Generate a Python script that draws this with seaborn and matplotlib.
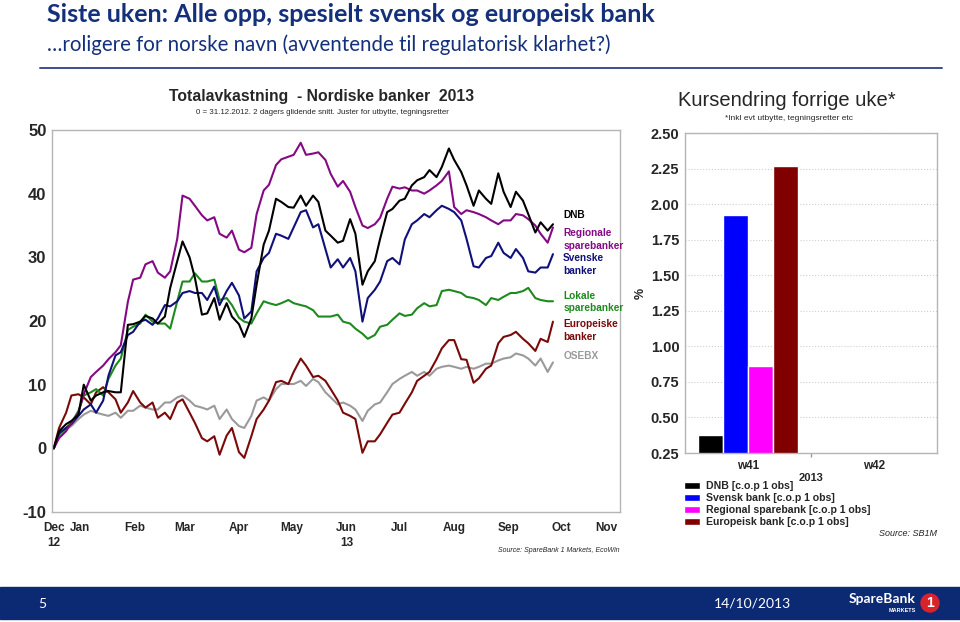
import pandas as pd
import matplotlib
matplotlib.use("Agg")
import matplotlib.pyplot as plt
import matplotlib.dates as mdates
import seaborn as sns
from matplotlib.lines import Line2D
from matplotlib.patches import Rectangle, Ellipse

# Totalavkastning, avlest tirsdag og fredag, 0 = 31.12.2012
dates = pd.date_range("2013-01-01", "2013-10-11", freq="W-TUE").union(
    pd.date_range("2013-01-01", "2013-10-11", freq="W-FRI"))

dnb = [0, 2.7, 3.8, 4.3, 5.3, 10.0, 7.5, 8.3, 8.8, 9.0,
       8.8, 8.8, 19.4, 19.5, 19.9, 20.8, 20.4, 19.6, 20.7, 25.2,
       29.4, 32.5, 30.0, 26.8, 21.0, 21.2, 23.6, 20.2, 22.8, 20.7,
       19.5, 17.5, 20.4, 25.7, 32.0, 34.2, 39.2, 38.7, 37.9, 37.8,
       39.7, 38.1, 39.7, 38.7, 34.2, 33.4, 32.3, 32.6, 36.0, 33.7,
       25.7, 27.8, 29.4, 32.9, 37.1, 37.6, 38.9, 39.2, 41.3, 42.1,
       42.6, 43.7, 42.6, 44.2, 47.1, 45.3, 43.4, 41.3, 38.1, 40.5,
       39.2, 38.4, 43.2, 40.3, 37.9, 40.3, 38.9, 36.8, 33.9, 35.5,
       34.2, 35.2]
regionale = [0, 1.6, 2.7, 4.0, 5.6, 8.5, 11.2, 12.0, 13.0, 14.0,
             15.1, 16.2, 23.0, 26.5, 26.8, 28.9, 29.4, 27.6, 26.8, 27.8,
             32.9, 39.7, 39.2, 38.1, 36.6, 35.8, 36.3, 33.7, 33.1, 34.2,
             31.2, 30.8, 31.5, 36.8, 40.5, 41.4, 44.5, 45.4, 45.8, 46.1,
             48.0, 46.1, 46.3, 46.5, 45.3, 43.1, 41.1, 42.0, 40.3, 37.9,
             35.0, 34.6, 35.2, 36.2, 39.2, 41.1, 40.8, 41.0, 40.5, 40.5,
             40.0, 40.5, 41.3, 42.0, 43.5, 37.9, 36.8, 37.4, 37.1, 36.8,
             36.3, 35.8, 35.2, 35.8, 35.8, 36.8, 36.6, 36.0, 35.0, 33.7,
             32.3, 34.7]
svenske = [0, 2.4, 3.2, 3.8, 5.1, 6.1, 6.9, 5.6, 7.5, 11.4,
           14.6, 15.1, 17.8, 18.3, 19.9, 20.2, 19.4, 20.4, 22.5, 22.3,
           23.1, 24.4, 24.7, 24.4, 24.4, 23.3, 25.4, 22.5, 24.7, 26.0,
           24.0, 20.4, 21.5, 27.8, 29.9, 30.7, 33.7, 33.4, 32.9, 34.7,
           37.1, 37.4, 34.7, 35.2, 31.3, 28.4, 29.7, 28.4, 29.9, 27.8,
           19.9, 23.6, 24.9, 26.2, 29.4, 29.9, 28.9, 32.8, 35.2, 35.8,
           36.8, 36.3, 37.4, 38.1, 37.6, 37.1, 35.8, 32.9, 28.6, 28.4,
           29.9, 30.2, 32.3, 30.7, 29.9, 31.3, 29.9, 27.8, 27.6, 28.4,
           28.4, 30.5]
lokale = [0, 2.2, 3.2, 4.0, 5.9, 8.3, 8.8, 9.3, 8.3, 10.9,
          13.0, 14.1, 18.6, 19.1, 19.6, 21.0, 19.9, 19.6, 19.6, 18.8,
          23.1, 26.2, 26.2, 27.5, 26.2, 26.2, 26.5, 23.3, 23.6, 22.5,
          20.5, 19.9, 19.6, 21.2, 23.1, 22.8, 22.5, 22.8, 23.3, 22.8,
          22.5, 22.3, 21.7, 20.7, 20.7, 20.7, 21.0, 19.9, 19.6, 18.8,
          18.0, 17.2, 17.8, 19.1, 19.4, 20.2, 21.2, 20.8, 21.0, 22.0,
          22.8, 22.3, 22.5, 24.7, 24.9, 24.7, 24.4, 23.8, 23.6, 23.3,
          22.5, 23.6, 23.3, 23.8, 24.4, 24.4, 24.7, 25.2, 23.6, 23.3,
          23.1, 23.1]
europeiske = [0, 3.2, 5.6, 8.3, 8.5, 8.0, 6.9, 8.8, 9.6, 8.8,
              7.7, 5.6, 7.2, 9.0, 7.2, 6.4, 7.2, 4.8, 5.6, 4.6,
              7.2, 7.7, 5.6, 4.0, 1.6, 1.1, 1.9, -1.0, 2.0, 3.2,
              -0.6, -1.5, 1.9, 4.6, 6.1, 7.5, 10.4, 10.6, 10.1, 12.0,
              14.1, 13.0, 11.2, 11.4, 10.6, 9.3, 7.5, 5.6, 5.1, 4.6,
              -0.7, 1.1, 1.1, 2.2, 4.0, 5.3, 5.6, 7.0, 8.8, 10.6,
              11.4, 12.0, 14.0, 15.7, 17.0, 17.0, 14.0, 13.9, 10.3, 11.0,
              12.5, 13.0, 16.5, 17.5, 17.8, 18.3, 17.2, 16.5, 15.3, 17.2,
              16.7, 19.9]
osebx = [0, 1.9, 3.0, 3.5, 4.6, 5.3, 5.9, 5.6, 5.3, 5.1,
         5.6, 4.8, 5.9, 5.9, 6.7, 6.4, 6.1, 6.1, 7.2, 7.2,
         8.0, 8.3, 7.5, 6.7, 6.4, 6.1, 6.7, 4.6, 6.1, 4.6,
         3.5, 3.2, 5.1, 7.5, 8.0, 7.5, 9.3, 10.1, 10.1, 10.1,
         10.6, 9.8, 10.9, 10.4, 8.8, 8.0, 6.9, 7.2, 6.7, 6.1,
         4.3, 5.9, 6.9, 7.2, 8.8, 10.1, 10.9, 11.4, 12.0, 11.4,
         12.0, 11.4, 12.5, 12.8, 13.0, 12.8, 12.5, 12.8, 12.5, 12.8,
         13.3, 13.3, 13.8, 14.1, 14.3, 14.9, 14.6, 14.1, 13.0, 14.1,
         12.0, 13.5]

series_names = ["OSEBX", "Europeiske banker", "Lokale sparebanker", "Svenske banker",
                "Regionale sparebanker", "DNB"]
series_colors = ["#9a9a9a", "#7a0a0a", "#1e8a1e", "#10107a", "#840a84", "#000000"]

month_labels = ["Dec\n12", "Jan", "Feb", "Mar", "Apr", "May", "Jun\n13", "Jul", "Aug", "Sep", "Oct", "Nov"]

# Kursendring forrige uke
weeks = ["w41", "w42"]
bar_labels = ["DNB [c.o.p 1 obs]", "Svensk bank [c.o.p 1 obs]",
              "Regional sparebank [c.o.p 1 obs]", "Europeisk bank [c.o.p 1 obs]"]
bar_values = [0.38, 1.92, 0.86, 2.27]
bar_colors = ["#000000", "#0000ff", "#ff00ff", "#800000"]

sns.set_theme(style="white")
plt.rcParams['font.family'] = ['Liberation Sans', 'DejaVu Sans']
slide_font = ['Lato', 'DejaVu Sans']
navy = "#14307a"

W, H = 960, 622
fig = plt.figure(figsize=(9.6, 6.22), dpi=100)


def fx(px):
    return px / W


def fy(py):
    return 1 - py / H


# ---- venstre: linjediagram
wide = pd.DataFrame({"Dato": dates, "DNB": dnb, "Regionale sparebanker": regionale,
                     "Svenske banker": svenske, "Lokale sparebanker": lokale,
                     "Europeiske banker": europeiske, "OSEBX": osebx})
long = wide.melt(id_vars="Dato", var_name="Serie", value_name="Avkastning")

ax = fig.add_axes([fx(52), fy(512), fx(568), 382 / H])
sns.lineplot(data=long, x="Dato", y="Avkastning", hue="Serie", hue_order=series_names,
             palette=series_colors, linewidth=1.5, legend=False, ax=ax)
ax.set_xlim(mdates.date2num(pd.Timestamp("2012-12-31")), mdates.date2num(pd.Timestamp("2013-11-18")))
ax.set_ylim(-10, 50)
ax.set_xlabel("")
ax.set_ylabel("")
ax.set_yticks(range(-10, 51, 10))
ax.set_yticklabels([str(v) for v in range(-10, 51, 10)], fontsize=12, fontweight='bold')
ax.tick_params(axis='y', length=0, pad=4)

month_starts = pd.date_range("2013-01-01", "2013-11-01", freq="MS")
ax.set_xticks(mdates.date2num(month_starts))
ax.set_xticklabels([])
ax.tick_params(axis='x', which='major', direction='in', length=4, color='#999999')
label_pos = [pd.Timestamp("2013-01-01")] + [d + pd.Timedelta(days=15) for d in month_starts[:-1]] + [pd.Timestamp("2013-11-10")]
ax.xaxis.remove_overlapping_locs = False
ax.set_xticks(mdates.date2num(label_pos), minor=True)
ax.set_xticklabels(month_labels, minor=True, fontsize=8.5, fontweight='bold', linespacing=1.4)
ax.tick_params(axis='x', which='minor', length=0, pad=7)
for s in ax.spines.values():
    s.set_color('#b5b5b5')
    s.set_linewidth(1)

label_y = {"DNB": 36.6, "Regionale\nsparebanker": 32.8, "Svenske\nbanker": 28.9,
           "Lokale\nsparebanker": 23.0, "Europeiske\nbanker": 18.5, "OSEBX": 14.5}
label_c = ["#000000", "#840a84", "#10107a", "#1e8a1e", "#7a0a0a", "#9a9a9a"]
for (txt, yv), c in zip(label_y.items(), label_c):
    ax.text(0.9, yv, txt, transform=ax.get_yaxis_transform(), color=c, fontsize=7.3,
            fontweight='bold', va='center', ha='left', linespacing=1.3)

fig.text(fx(322), fy(97), "Totalavkastning  - Nordiske banker  2013", ha='center', va='center',
         fontsize=11.3, fontweight='bold')
fig.text(fx(322), fy(113), "0 = 31.12.2012. 2 dagers glidende snitt. Juster for utbytte, tegningsretter",
         ha='center', va='center', fontsize=5.7)
fig.text(fx(620), fy(550), "Source: SpareBank 1 Markets, EcoWin", ha='right', va='center',
         fontsize=5, style='italic')

# ---- høyre: stolpediagram
bars = pd.DataFrame({"Uke": ["w41"] * len(bar_labels), "Serie": bar_labels, "Endring": bar_values})
ax2 = fig.add_axes([fx(685), fy(453), fx(252), 320 / H])
sns.barplot(data=bars, x="Uke", y="Endring", hue="Serie", order=weeks, hue_order=bar_labels,
            palette=bar_colors, saturation=1, width=0.8, errorbar=None, ax=ax2)
ax2.set_ylim(0.25, 2.5)
ax2.set_xlim(-0.5, 1.5)
ticks = [0.25 * i for i in range(1, 11)]
ax2.set_yticks(ticks)
ax2.set_yticklabels([f"{t:.2f}" for t in ticks], fontsize=10.5, fontweight='bold')
ax2.yaxis.grid(True, linestyle=':', color='#cfcfcf', linewidth=0.8)
ax2.set_axisbelow(True)
ax2.tick_params(axis='y', length=0, pad=4)
ax2.set_xticks([0, 1])
ax2.set_xticklabels(weeks, fontsize=8.5, fontweight='bold')
ax2.tick_params(axis='x', which='major', length=0, pad=5)
ax2.set_xticks([0.5], minor=True)
ax2.tick_params(axis='x', which='minor', direction='out', length=3, color='#999999', bottom=True)
ax2.set_xlabel("2013", fontsize=8, fontweight='bold', labelpad=1)
ax2.set_ylabel("%", fontsize=9, fontweight='bold', labelpad=3)
for s in ax2.spines.values():
    s.set_color('#b5b5b5')
    s.set_linewidth(1)

handles, labels = ax2.get_legend_handles_labels()
ax2.get_legend().remove()
fig.legend(handles, labels, loc='upper left', bbox_to_anchor=(fx(684), fy(481)), frameon=False,
           prop=dict(weight='bold', size=7.6), handlelength=1.5, handleheight=0.7,
           labelspacing=0.2, borderaxespad=0, borderpad=0, handletextpad=0.6)

fig.text(fx(787), fy(100), "Kursendring forrige uke*", ha='center', va='center', fontsize=14.5)
fig.text(fx(789), fy(118), "*Inkl evt utbytte, tegningsretter etc", ha='center', va='center', fontsize=6)
fig.text(fx(937), fy(533), "Source: SB1M", ha='right', va='center', fontsize=6.5, style='italic')

# ---- lysbilde
fig.text(fx(47), fy(15), "Siste uken: Alle opp, spesielt svensk og europeisk bank", ha='left', va='center',
         fontsize=18, fontweight='bold', color=navy, family=slide_font)
fig.text(fx(47), fy(45), "\u2026roligere for norske navn (avventende til regulatorisk klarhet?)", ha='left',
         va='center', fontsize=14.8, color=navy, family=slide_font)
fig.add_artist(Line2D([fx(40), fx(942)], [fy(68), fy(68)], color="#3b4e8e", linewidth=1.4))

fig.add_artist(Rectangle((0, fy(619)), 1, 32 / H, transform=fig.transFigure, color="#0c2a74", zorder=0))
fig.text(fx(38), fy(604), "5", color='white', fontsize=10, va='center', family=slide_font)
fig.text(fx(752), fy(604), "14/10/2013", color='white', fontsize=10, va='center', ha='center', family=slide_font)
fig.text(fx(916), fy(599), "SpareBank", color='white', fontsize=10, fontweight='bold', va='center',
         ha='right', family=slide_font)
fig.text(fx(916), fy(610), "MARKETS", color='white', fontsize=4, fontweight='bold', va='center', ha='right')
fig.add_artist(Ellipse((fx(930), fy(603)), 18 / W, 18 / H, transform=fig.transFigure,
                       color='#d9232a', zorder=3))
fig.text(fx(930), fy(603), "1", color='white', fontsize=10, fontweight='bold', va='center', ha='center',
         zorder=4)

fig.savefig("out.png", dpi=100)
